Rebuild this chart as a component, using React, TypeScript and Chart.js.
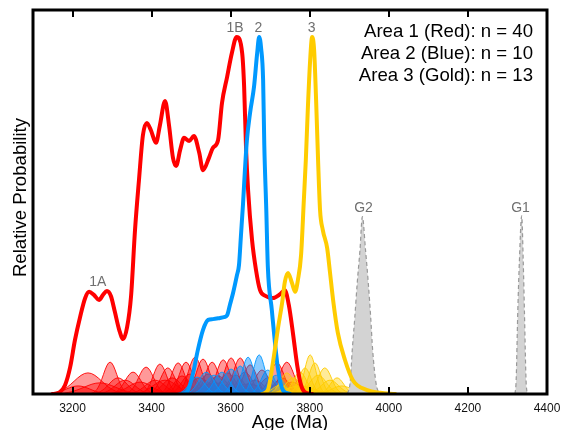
import React, { useEffect, useRef } from 'react';
import { Chart, registerables } from 'chart.js';

Chart.register(...registerables);

const FONT = '"Liberation Sans", Arial, Helvetica, sans-serif';

// x axis tick values (Ma)
const xTicks = [3200, 3400, 3600, 3800, 4000, 4200, 4400];

// Summed probability curves (age in Ma, relative probability)
const redAge = [3150, 3168, 3181, 3194, 3206, 3219, 3232, 3242, 3254, 3267, 3277, 3287, 3297, 3307, 3318, 3328, 3338, 3348, 3358, 3368, 3378, 3388, 3398, 3411, 3421, 3434, 3444, 3454, 3462, 3472, 3482, 3495, 3507, 3520, 3530, 3545, 3555, 3568, 3578, 3591, 3603, 3615, 3629, 3634, 3639, 3644, 3654, 3664, 3674, 3689, 3707, 3725, 3737, 3747, 3758, 3768, 3778, 3790, 3806];
const redProb = [0, 0.005, 0.023, 0.07, 0.14, 0.2, 0.25, 0.266, 0.258, 0.245, 0.258, 0.268, 0.255, 0.214, 0.167, 0.143, 0.174, 0.255, 0.427, 0.557, 0.674, 0.706, 0.6875, 0.654, 0.7, 0.763, 0.7, 0.615, 0.594, 0.635, 0.667, 0.659, 0.672, 0.63, 0.583, 0.615, 0.641, 0.661, 0.758, 0.826, 0.888, 0.93, 0.888, 0.8, 0.635, 0.531, 0.401, 0.323, 0.271, 0.255, 0.25, 0.26, 0.27, 0.232, 0.154, 0.076, 0.023, 0.003, 0];

const blueAge = [3479, 3492, 3505, 3517, 3530, 3543, 3555, 3573, 3583, 3591, 3598, 3606, 3616, 3621, 3626, 3631, 3636, 3641, 3649, 3659, 3667, 3672, 3677, 3682, 3685, 3690, 3694, 3704, 3712, 3720, 3732, 3750];
const blueProb = [0, 0.01, 0.055, 0.115, 0.167, 0.193, 0.195, 0.198, 0.2, 0.205, 0.232, 0.263, 0.31, 0.336, 0.414, 0.492, 0.583, 0.661, 0.732, 0.8, 0.888, 0.93, 0.9, 0.818, 0.648, 0.48, 0.33, 0.219, 0.133, 0.0625, 0.01, 0];

const goldAge = [3679, 3694, 3707, 3720, 3730, 3737, 3745, 3755, 3763, 3770, 3778, 3785, 3790, 3795, 3801, 3806, 3811, 3816, 3821, 3826, 3833, 3844, 3851, 3859, 3871, 3889, 3909, 3945, 3978, 4016];
const goldProb = [0, 0.01, 0.083, 0.174, 0.237, 0.292, 0.315, 0.289, 0.266, 0.297, 0.362, 0.505, 0.609, 0.74, 0.87, 0.93, 0.896, 0.766, 0.609, 0.479, 0.427, 0.38, 0.318, 0.245, 0.159, 0.0885, 0.036, 0.01, 0.003, 0];

// Reference grains G1, G2
const g2Age = [3895, 3902, 3907.5, 3914, 3920, 3927, 3933, 3941, 3948, 3954, 3959, 3967.5, 3975];
const g2Prob = [0, 0.029, 0.115, 0.201, 0.289, 0.375, 0.462, 0.375, 0.289, 0.201, 0.115, 0.029, 0];
const g1Age = [4319, 4322, 4326, 4330, 4336, 4340, 4343, 4347, 4350];
const g1Prob = [0, 0.036, 0.211, 0.341, 0.464, 0.341, 0.211, 0.036, 0];

// Individual grain kernels: centre age (Ma), 1-sigma (Ma), peak height
const redKAge = [3239, 3214, 3269, 3295, 3333, 3353, 3386, 3371, 3409, 3421, 3441, 3452, 3467, 3487, 3477, 3510, 3497, 3530, 3522, 3553, 3543, 3568, 3581, 3601, 3593, 3624, 3613, 3636, 3649, 3661, 3679, 3694, 3717, 3742, 3730, 3755, 3315, 3434, 3560, 3644];
const redKSig = [35, 30, 40, 17, 25, 20, 19, 30, 25, 17, 18, 23, 17, 17, 20, 17, 20, 17, 25, 17, 20, 23, 17, 17, 19, 17, 20, 19, 17, 23, 18, 19, 18, 18, 20, 23, 23, 30, 35, 35];
const redKHt = [0.055, 0.021, 0.029, 0.083, 0.036, 0.057, 0.07, 0.031, 0.036, 0.078, 0.068, 0.042, 0.081, 0.083, 0.047, 0.096, 0.052, 0.091, 0.042, 0.083, 0.052, 0.047, 0.089, 0.094, 0.055, 0.094, 0.049, 0.057, 0.076, 0.036, 0.0625, 0.042, 0.081, 0.083, 0.042, 0.031, 0.042, 0.036, 0.029, 0.026];

const blueKAge = [3515, 3538, 3558, 3578, 3601, 3624, 3644, 3672, 3694, 3715];
const blueKSig = [19, 19, 21, 19, 19, 17, 15, 15, 17, 19];
const blueKHt = [0.044, 0.057, 0.049, 0.057, 0.065, 0.073, 0.096, 0.102, 0.0625, 0.049];

const goldKAge = [3725, 3742, 3758, 3775, 3788, 3801, 3813, 3821, 3838, 3851, 3869, 3881, 3775];
const goldKSig = [19, 17, 19, 17, 15, 14, 15, 21, 17, 22, 17, 25, 35];
const goldKHt = [0.023, 0.055, 0.042, 0.057, 0.068, 0.102, 0.081, 0.049, 0.068, 0.036, 0.042, 0.021, 0.021];

// Annotation labels
const peakText = ['1A', '1B', '2', '3', 'G2', 'G1'];
const peakAge = [3264, 3611, 3670, 3805, 3936, 4333];
const peakProb = [0.281, 0.943, 0.943, 0.943, 0.473, 0.473];

const legendLines = ['Area 1 (Red): n = 40', 'Area 2 (Blue): n = 10', 'Area 3 (Gold): n = 13'];

const RED = '#ff0000';
const BLUE = '#0099ff';
const GOLD = '#ffcc00';

const zip = (xs: number[], ys: number[]) => xs.map((x, i) => ({ x, y: ys[i] }));

function kernel(age: number, sig: number, ht: number) {
  const pts: { x: number; y: number }[] = [];
  for (let k = -16; k <= 16; k++) {
    const z = k / 4;
    pts.push({ x: age + z * sig, y: ht * Math.exp(-0.5 * z * z) });
  }
  return pts;
}

function kernelSets(ages: number[], sigs: number[], hts: number[], stroke: string, fillC: string, order: number) {
  return ages.map((a, i) => ({
    data: kernel(a, sigs[i], hts[i]),
    borderColor: stroke,
    backgroundColor: fillC,
    borderWidth: 0.9,
    fill: 'origin',
    pointRadius: 0,
    tension: 0,
    order,
  }));
}

const decorPlugin = {
  id: 'decor',
  afterDatasetsDraw(chart: any) {
    const { ctx, chartArea: a, scales } = chart;
    const xs = scales.x;
    const ys = scales.y;
    ctx.save();
    // inward tick marks
    ctx.strokeStyle = '#000';
    ctx.lineWidth = 2;
    for (const t of xTicks) {
      const px = Math.round(xs.getPixelForValue(t));
      ctx.beginPath();
      ctx.moveTo(px, a.bottom);
      ctx.lineTo(px, a.bottom - 7);
      ctx.moveTo(px, a.top);
      ctx.lineTo(px, a.top + 7);
      ctx.stroke();
    }
    // frame
    ctx.lineWidth = 3;
    ctx.strokeRect(a.left, a.top, a.right - a.left, a.bottom - a.top);

    // peak labels
    ctx.fillStyle = '#707070';
    ctx.font = `14px ${FONT}`;
    ctx.textAlign = 'center';
    ctx.textBaseline = 'alphabetic';
    peakText.forEach((t, i) => {
      ctx.fillText(t, xs.getPixelForValue(peakAge[i]), ys.getPixelForValue(peakProb[i]));
    });

    // legend text
    ctx.fillStyle = '#000';
    ctx.font = `18.6px ${FONT}`;
    ctx.textAlign = 'right';
    legendLines.forEach((t, i) => {
      ctx.fillText(t, a.right - 14, a.top + 26.5 + i * 22);
    });

    // axis titles
    ctx.font = `18.6px ${FONT}`;
    ctx.textAlign = 'center';
    ctx.fillText('Age (Ma)', (a.left + a.right) / 2, 428);
    ctx.save();
    ctx.translate(26, 197.5);
    ctx.rotate(-Math.PI / 2);
    ctx.fillText('Relative Probability', 0, 0);
    ctx.restore();
    ctx.restore();
  },
};

export default function App() {
  const ref = useRef<HTMLCanvasElement>(null);
  useEffect(() => {
    if (!ref.current) return;
    const datasets: any[] = [
      ...kernelSets(redKAge, redKSig, redKHt, RED, 'rgba(255,0,0,0.4)', 100),
      ...kernelSets(blueKAge, blueKSig, blueKHt, BLUE, 'rgba(0,140,255,0.45)', 90),
      ...kernelSets(goldKAge, goldKSig, goldKHt, GOLD, 'rgba(255,204,0,0.4)', 80),
      {
        data: zip(g2Age, g2Prob),
        borderColor: '#999',
        backgroundColor: '#d3d3d3',
        borderWidth: 1.2,
        borderDash: [4, 3],
        fill: 'origin',
        pointRadius: 0,
        cubicInterpolationMode: 'monotone',
        order: 70,
      },
      {
        data: zip(g1Age, g1Prob),
        borderColor: '#999',
        backgroundColor: '#d3d3d3',
        borderWidth: 1.2,
        borderDash: [4, 3],
        fill: 'origin',
        pointRadius: 0,
        cubicInterpolationMode: 'monotone',
        order: 70,
      },
      ...[
        [redAge, redProb, RED, 30],
        [blueAge, blueProb, BLUE, 20],
        [goldAge, goldProb, GOLD, 10],
      ].map(([ag, pr, c, o]: any) => ({
        data: zip(ag, pr),
        borderColor: c,
        borderWidth: 4,
        fill: false,
        pointRadius: 0,
        cubicInterpolationMode: 'monotone',
        borderCapStyle: 'round',
        borderJoinStyle: 'round',
        order: o,
      })),
    ];
    const chart = new Chart(ref.current, {
      type: 'line',
      data: { datasets },
      options: {
        animation: false,
        responsive: false,
        events: [],
        layout: { padding: { left: 33, right: 16, top: 10, bottom: 0 } },
        plugins: { legend: { display: false }, tooltip: { enabled: false } },
        scales: {
          x: {
            type: 'linear',
            min: 3100,
            max: 4400,
            grid: { display: false, drawTicks: false },
            border: { display: false },
            afterBuildTicks: (s: any) => {
              s.ticks = xTicks.map((v) => ({ value: v }));
            },
            afterFit: (s: any) => {
              s.height = 36;
              s.paddingLeft = 0;
              s.paddingRight = 0;
            },
            ticks: {
              padding: 7,
              color: '#111',
              font: { family: FONT, size: 12 },
              maxRotation: 0,
              autoSkip: false,
              callback: (v: any) => String(v),
            },
          },
          y: { display: false, min: 0, max: 1 },
        },
      },
      plugins: [decorPlugin],
    } as any);
    return () => chart.destroy();
  }, []);
  return (
    <div style={{ position: 'absolute', left: 0, top: 0, width: 563, height: 430, background: '#fff' }}>
      <canvas ref={ref} width={563} height={430} />
    </div>
  );
}
